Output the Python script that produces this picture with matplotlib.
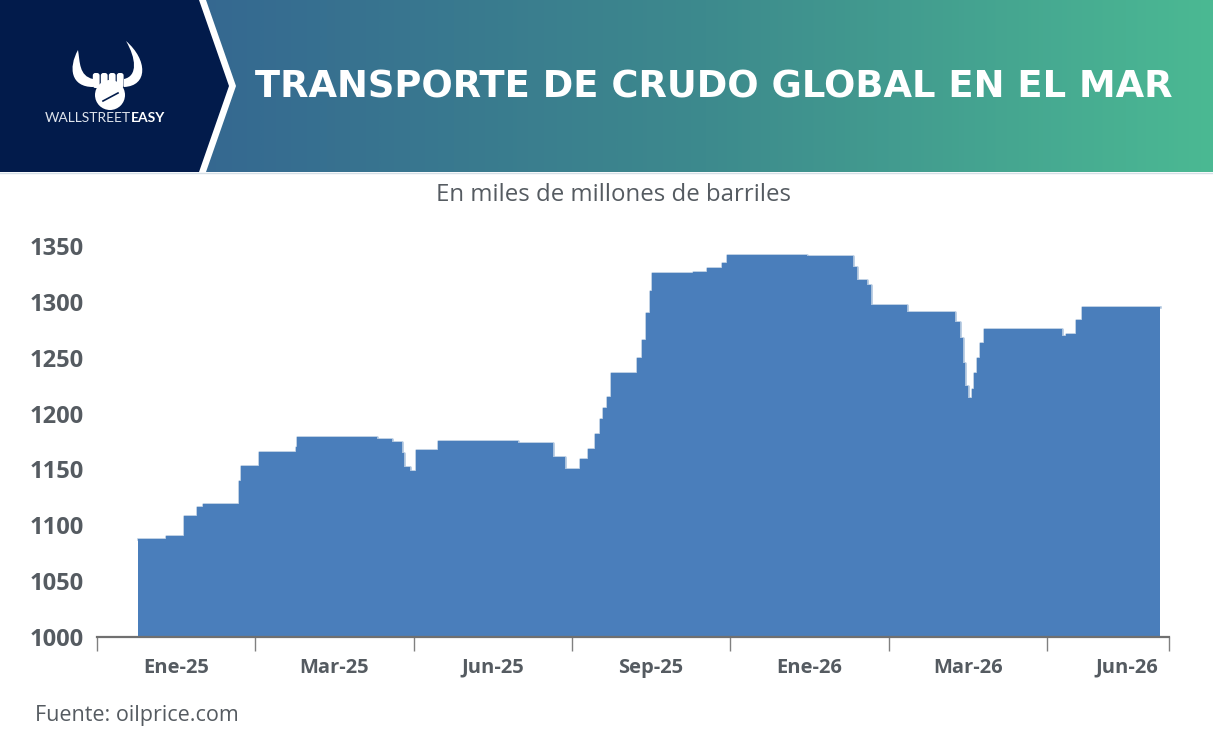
import numpy as np
import matplotlib
matplotlib.use("Agg")
from matplotlib import pyplot as plt
from matplotlib.patches import Polygon, Circle, FancyBboxPatch, PathPatch
from matplotlib.path import Path

# datos (eje x en unidades de categoria: 0 = inicio de Ene-25)
x_inicio = [0.263, 0.437, 0.551, 0.631, 0.671, 0.900, 0.911, 1.027, 1.257, 1.263,
            1.768, 1.862, 1.926, 1.940, 1.978, 2.016, 2.157, 2.658, 2.883, 2.956,
            3.051, 3.104, 3.146, 3.178, 3.197, 3.220, 3.244, 3.414, 3.442, 3.468,
            3.493, 3.508, 3.762, 3.850, 3.947, 3.977, 4.484, 4.775, 4.800, 4.863,
            4.888, 5.113, 5.417, 5.448, 5.468, 5.482, 5.499, 5.524, 5.538, 5.557,
            5.576, 5.600, 6.094, 6.120, 6.183, 6.221, 6.710]
valores = [1087.5, 1090, 1108, 1116, 1119, 1140, 1153, 1166, 1170, 1179,
           1177, 1175, 1165, 1152, 1149, 1167, 1175.5, 1173.5, 1161.5, 1150.5,
           1159, 1168, 1182, 1195, 1205, 1215, 1236, 1250, 1266, 1290,
           1310, 1325.5, 1327, 1330, 1335, 1342, 1341, 1331.5, 1319.5, 1315,
           1297, 1291, 1282, 1268, 1245, 1225, 1214, 1222, 1236, 1250,
           1263, 1275.5, 1269, 1271, 1284, 1295, 1295]
etiquetas = ["Ene-25", "Mar-25", "Jun-25", "Sep-25", "Ene-26", "Mar-26", "Jun-26"]
y_ticks = [1000, 1050, 1100, 1150, 1200, 1250, 1300, 1350]
x_fin = 6.772

W, H = 1213, 753
fig = plt.figure(figsize=(W / 100, H / 100), dpi=100)
fig.patch.set_facecolor("white")

# fondo / cabecera en pixeles
bg = fig.add_axes([0, 0, 1, 1])
bg.set_xlim(0, W)
bg.set_ylim(H, 0)
bg.axis("off")

grad = np.linspace(0, 1, 512).reshape(1, -1)
cmap = matplotlib.colors.LinearSegmentedColormap.from_list(
    "cab", ["#356891", "#3d8a8d", "#4bb993"])
bg.imshow(grad, extent=[200, W, 172, 0], aspect="auto", cmap=cmap, zorder=1)
bg.plot([0, W], [172.5, 172.5], color="#d5dfe6", lw=1, zorder=1.5)
bg.add_patch(Polygon([(0, 0), (206, 0), (236, 86), (206, 172), (0, 172)],
                     closed=True, fc="white", ec="none", zorder=2))
bg.add_patch(Polygon([(0, 0), (199, 0), (229, 86), (199, 172), (0, 172)],
                     closed=True, fc="#021b4b", ec="none", zorder=3))

# logo
bg.add_patch(Circle((110, 95), 15, fc="white", ec="none", zorder=4))
for xf in [96, 104, 112, 120]:
    bg.add_patch(FancyBboxPatch((xf - 3.2, 73), 6.8, 15, boxstyle="round,pad=0,rounding_size=2.5",
                                fc="white", ec="none", zorder=4))
bg.plot([103, 118], [101, 93], color="#021b4b", lw=1.2, zorder=5)
cuerno_izq = Path([(93, 87), (71, 87), (68, 68), (78, 50), (80, 62), (79, 76), (93, 79), (93, 87)],
                  [Path.MOVETO, Path.CURVE4, Path.CURVE4, Path.CURVE4,
                   Path.CURVE4, Path.CURVE4, Path.CURVE4, Path.CLOSEPOLY])
cuerno_der = Path([(124, 87), (148, 86), (148, 60), (126, 41), (136, 58), (138, 76), (124, 79), (124, 87)],
                  [Path.MOVETO, Path.CURVE4, Path.CURVE4, Path.CURVE4,
                   Path.CURVE4, Path.CURVE4, Path.CURVE4, Path.CLOSEPOLY])
bg.add_patch(PathPatch(cuerno_izq, fc="white", ec="none", zorder=4))
bg.add_patch(PathPatch(cuerno_der, fc="white", ec="none", zorder=4))
bg.text(131, 118, "WALLSTREET", color="#dfe4ec", fontsize=10, family="Lato",
        fontweight="normal", ha="right", va="center", zorder=5)
bg.text(131, 118, "EASY", color="white", fontsize=10, family="Lato",
        fontweight="bold", ha="left", va="center", zorder=5)

# titulo ajustado al ancho
titulo = bg.text(255, 87, "TRANSPORTE DE CRUDO GLOBAL EN EL MAR", color="white",
                 fontsize=28, family="DejaVu Sans", fontweight="bold",
                 ha="left", va="center", zorder=5)
fig.canvas.draw()
ancho = titulo.get_window_extent().width
titulo.set_fontsize(28 * 918 / ancho)

fig.text(613 / W, 1 - 195 / H, "En miles de millones de barriles", color="#555b61",
         fontsize=17.3, family="Open Sans", ha="center", va="center")
fig.text(35 / W, 1 - 715 / H, "Fuente: oilprice.com", color="#555b61",
         fontsize=15.5, family="Open Sans", ha="left", va="center")

# grafico
ax = fig.add_axes([96.7 / W, 1 - 637 / H, (1169.4 - 96.7) / W, (637 - 246) / H])
ax.set_facecolor("none")
ax.step(x_inicio, valores, where="post", color="#a9c1dc", lw=1.8, zorder=2)
ax.fill_between(x_inicio, valores, 1000, step="post", color="#4a7ebb", lw=0, zorder=3)
ax.set_xlim(0, x_fin)
ax.set_ylim(1000, 1350)

for lado in ["left", "top", "right"]:
    ax.spines[lado].set_visible(False)
ax.spines["bottom"].set_color("#707070")
ax.spines["bottom"].set_linewidth(1.6)
ax.spines["bottom"].set_zorder(4)

ax.set_xticks(list(range(7)) + [x_fin])
ax.set_xticklabels([])
ax.set_xticks([i + 0.5 for i in range(7)], minor=True)
ax.set_xticklabels(etiquetas, minor=True)
ax.tick_params(axis="x", which="major", length=10, width=1, color="#808080")
ax.tick_params(axis="x", which="minor", length=0, pad=15, labelsize=14.5, labelcolor="#555b61")
for t in ax.get_xticklabels(minor=True):
    t.set_family("Open Sans")
    t.set_fontweight("bold")

ax.set_yticks(y_ticks)
ax.set_yticklabels([str(v) for v in y_ticks])
ax.tick_params(axis="y", length=0, pad=9, labelsize=17, labelcolor="#555b61")
for t in ax.get_yticklabels():
    t.set_family("Open Sans")
    t.set_fontweight("bold")

fig.savefig("out.png", dpi=100)
